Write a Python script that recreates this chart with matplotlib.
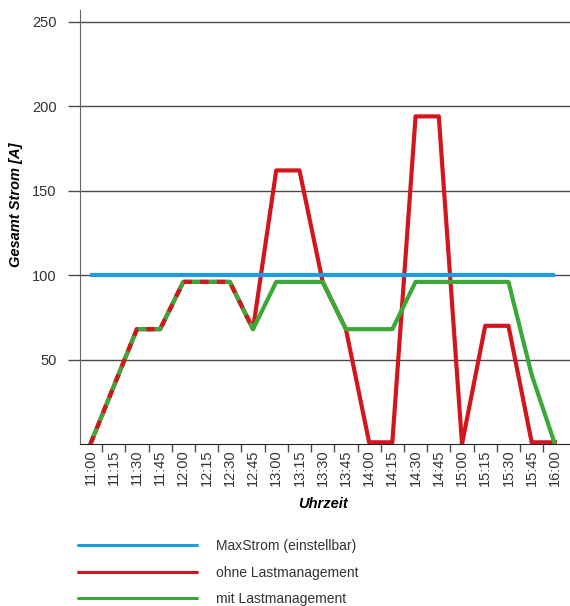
import numpy as np
import matplotlib
matplotlib.use("Agg")
import matplotlib.pyplot as plt

plt.rcParams['font.family'] = ['Liberation Sans', 'DejaVu Sans']

# Zeitpunkte und Stromwerte
zeiten = ['11:00', '11:15', '11:30', '11:45', '12:00', '12:15', '12:30', '12:45',
          '13:00', '13:15', '13:30', '13:45', '14:00', '14:15', '14:30', '14:45',
          '15:00', '15:15', '15:30', '15:45', '16:00']
max_strom = [100] * len(zeiten)
ohne_lm = [0, 34, 68, 68, 96, 96, 96, 68, 162, 162, 96, 68, 1, 1, 194, 194,
           0, 70, 70, 1, 1]
mit_lm = [0, 34, 68, 68, 96, 96, 96, 68, 96, 96, 96, 68, 68, 68, 96, 96,
          96, 96, 96, 41, 0]
n_gemeinsam = 8  # bis 12:45 sind beide Kurven gleich

blue = '#1c9de0'
red = '#d3161d'
green = '#3ba838'
grid_col = '#4a4a4a'
text_col = '#333333'

fig = plt.figure(figsize=(5.7, 6.06), dpi=100)
ax = fig.add_axes([80 / 570, 1 - 444 / 606, 490 / 570, 434 / 606])

x = np.arange(len(zeiten))
l_ohne, = ax.plot(x, ohne_lm, color=red, lw=3, zorder=3, label='ohne Lastmanagement')
l_mit, = ax.plot(x, mit_lm, color=green, lw=3, zorder=4, label='mit Lastmanagement')
ax.plot(x[:n_gemeinsam], ohne_lm[:n_gemeinsam], color=red, lw=3, zorder=5,
        dashes=(2, 2))
l_max, = ax.plot(x, max_strom, color=blue, lw=3, zorder=6, solid_capstyle='butt',
                 label='MaxStrom (einstellbar)')

ax.set_xlim(-0.45, 20.65)
ax.set_ylim(0, 257)

ax.set_yticks([50, 100, 150, 200, 250])
ax.yaxis.grid(True, color=grid_col, lw=1)
ax.set_axisbelow(True)
ax.tick_params(axis='y', length=9, width=1, color=grid_col, pad=8,
               labelsize=10.5, labelcolor=text_col)

ax.set_xticks(x)
ax.set_xticklabels(zeiten, rotation=90, fontsize=10.5, color=text_col)
ax.set_xticks(x[:-1] + 0.5, minor=True)
ax.tick_params(axis='x', which='major', length=0, pad=4)
ax.tick_params(axis='x', which='minor', length=6, width=1, color=grid_col)

for s in ['top', 'right']:
    ax.spines[s].set_visible(False)
ax.spines['left'].set_color('#666666')
ax.spines['bottom'].set_color('#222222')

fig.text(16 / 570, 1 - 205 / 606, 'Gesamt Strom [A]', rotation=90, ha='center',
         va='center', fontsize=10.5, fontweight='bold', style='italic')
fig.text(323 / 570, 1 - 504 / 606, 'Uhrzeit', ha='center', va='center',
         fontsize=10.5, fontweight='bold', style='italic')

leg = fig.legend(handles=[l_max, l_ohne, l_mit], loc='upper left',
                 bbox_to_anchor=(78 / 570, 1 - 539 / 606), frameon=False,
                 borderpad=0, borderaxespad=0, handlelength=8.6, handletextpad=1.3,
                 labelspacing=0.9, fontsize=10, labelcolor=text_col)
for ln in leg.get_lines():
    ln.set_linewidth(2.2)
    ln.set_solid_capstyle('round')

fig.savefig('out.png', dpi=100)
